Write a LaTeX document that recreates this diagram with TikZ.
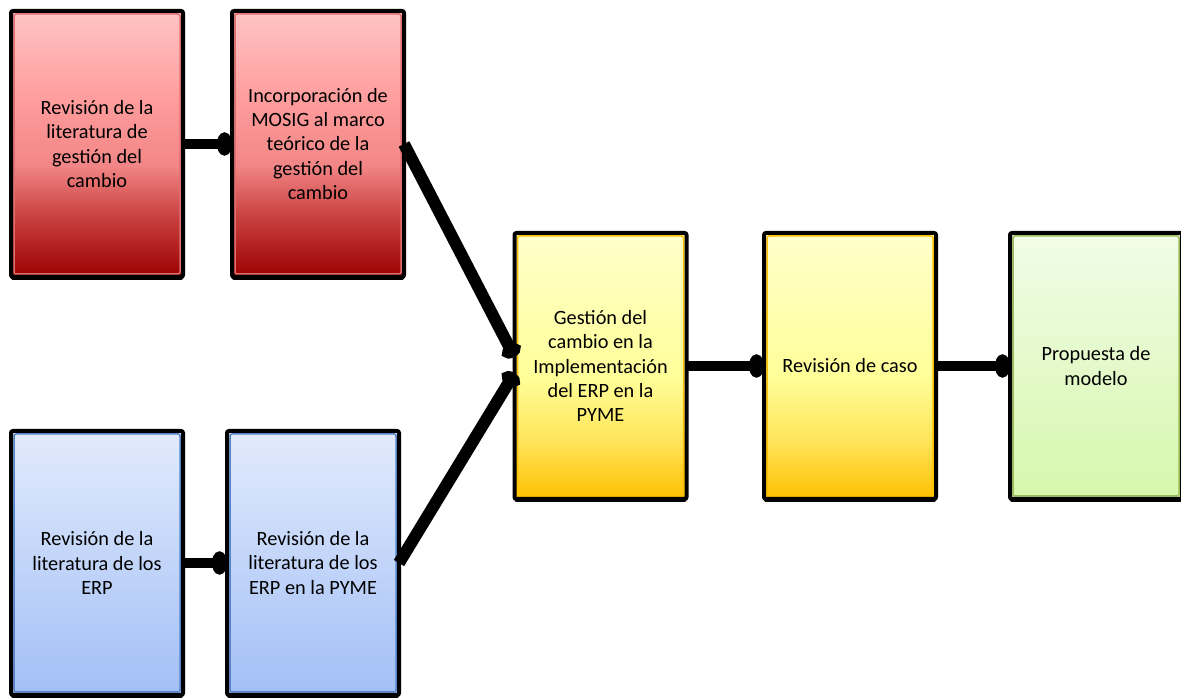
\documentclass[tikz,border=0pt]{standalone}
\usepackage{fontspec}
\setmainfont{Carlito}
\usetikzlibrary{arrows.meta,shadows}

% palette
\definecolor{redtop}{HTML}{FFC4C4}
\definecolor{redmidA}{HTML}{FF9C9C}
\definecolor{redmidB}{HTML}{F28686}
\definecolor{redmidC}{HTML}{CC4444}
\definecolor{redbot}{HTML}{9C0000}
\definecolor{redrim}{HTML}{E07070}
\definecolor{yeltop}{HTML}{FFFFCC}
\definecolor{yelmid}{HTML}{FFFF99}
\definecolor{yelmidB}{HTML}{FFE45A}
\definecolor{yelbot}{HTML}{FFC000}
\definecolor{yelrim}{HTML}{FFC000}
\definecolor{grntop}{HTML}{F1FCE8}
\definecolor{grnbot}{HTML}{D6F7AC}
\definecolor{grnrim}{HTML}{9BBB59}
\definecolor{blutop}{HTML}{E2EBFC}
\definecolor{blubot}{HTML}{A2BFF6}
\definecolor{blurim}{HTML}{5585C8}

% vertical fills (the node box maps onto 25bp..75bp)
\pgfdeclareverticalshading{redfill}{100bp}{color(0bp)=(redbot); color(25bp)=(redbot);
  color(37bp)=(redmidC); color(46bp)=(redmidB); color(58bp)=(redmidA); color(75bp)=(redtop); color(100bp)=(redtop)}
\pgfdeclareverticalshading{yelfill}{100bp}{color(0bp)=(yelbot); color(25bp)=(yelbot);
  color(36bp)=(yelmidB); color(48bp)=(yelmid); color(75bp)=(yeltop); color(100bp)=(yeltop)}
\pgfdeclareverticalshading{grnfill}{100bp}{color(0bp)=(grnbot); color(25bp)=(grnbot);
  color(75bp)=(grntop); color(100bp)=(grntop)}
\pgfdeclareverticalshading{blufill}{100bp}{color(0bp)=(blubot); color(25bp)=(blubot);
  color(75bp)=(blutop); color(100bp)=(blutop)}

\tikzset{
  rim/.style={},
  stage/.style={rectangle, rounded corners=2pt, draw=black, line width=4pt,
    minimum width=172pt, minimum height=266pt, inner sep=0pt, outer sep=0pt,
    align=center, font=\fontsize{20.3}{24.2}\selectfont,
    drop shadow={shadow xshift=0pt, shadow yshift=-3pt, opacity=1, fill=black},
    path picture={\draw[line width=1.5pt, rim]
      ([xshift=3pt,yshift=-3pt]path picture bounding box.north west) rectangle
      ([xshift=-3pt,yshift=3pt]path picture bounding box.south east);}},
  redstage/.style={stage, shading=redfill, rim/.style={draw=redrim}},
  yelstage/.style={stage, shading=yelfill, rim/.style={draw=yelrim}},
  grnstage/.style={stage, shading=grnfill, rim/.style={draw=grnrim}},
  blustage/.style={stage, shading=blufill, rim/.style={draw=blurim}},
  link/.style={line width=10pt, -{Ellipse[length=15pt,width=23pt]}},
  slant/.style={line width=12pt, -{Ellipse[length=14pt,width=20pt]}}
}

\begin{document}
\begin{tikzpicture}[x=1pt,y=1pt]
\useasboundingbox (0,0) rectangle (1181,698);

\node[redstage] (r1) at (97,554) {Revisión de la\\literatura de\\gestión del\\cambio};
\node[redstage] (r2) at (318,554) {Incorporación de\\MOSIG al marco\\teórico de la\\gestión del\\cambio};
\node[blustage, minimum height=264pt] (b1) at (97,135) {Revisión de la\\literatura de los\\ERP};
\node[blustage, minimum height=264pt] (b2) at (313,135) {Revisión de la\\literatura de los\\ERP en la PYME};
\node[yelstage] (y1) at (600.5,332) {Gestión del\\cambio en la\\Implementación\\del ERP en la\\PYME};
\node[yelstage] (y2) at (850,332) {Revisión de caso};
\node[grnstage] (g) at (1096,332) {Propuesta de\\modelo};

\draw[link] (r1.east) -- (r2.west);
\draw[link] (b1.east) -- (b2.west);
\draw[slant] (r2.east) -- ([yshift=9pt]y1.west);
\draw[slant] (b2.east) -- ([yshift=-7pt]y1.west);
\draw[link] (y1.east) -- (y2.west);
\draw[link] (y2.east) -- (g.west);
\end{tikzpicture}
\end{document}
